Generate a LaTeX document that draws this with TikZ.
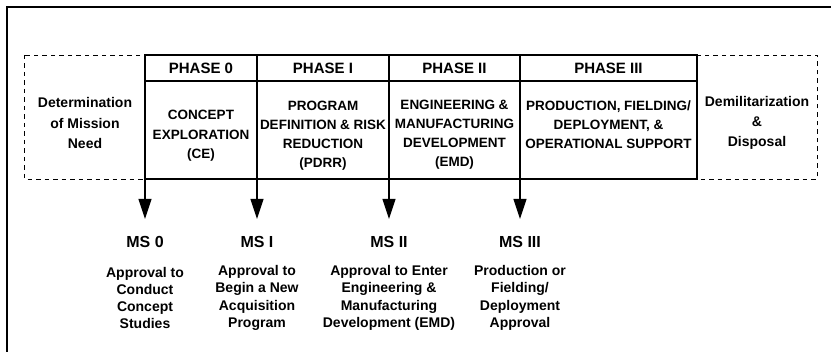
\documentclass[tikz,border=0pt]{standalone}
\usepackage{fontspec}
\setmainfont{Liberation Sans}
\usetikzlibrary{arrows.meta}
\tikzset{
  frame/.style={line width=2.2pt},
  dashbox/.style={draw, dashed, dash pattern=on 4.5pt off 4pt, line width=0.8pt},
  tbl/.style={line width=1.2pt},
  hdr/.style={font=\bfseries\fontsize{15}{17}\selectfont, inner sep=0pt},
  body/.style={font=\bfseries\fontsize{13.5}{19}\selectfont, align=center, inner sep=0pt},
  side/.style={font=\bfseries\fontsize{14}{20}\selectfont, align=center, inner sep=0pt},
  mslabel/.style={font=\bfseries\fontsize{16}{18}\selectfont, inner sep=0pt},
  desc/.style={font=\bfseries\fontsize{14}{17.3}\selectfont, align=center, inner sep=0pt},
  msarrow/.style={line width=1.1pt, -{Triangle[width=13pt,length=20pt]}}
}
\begin{document}
\begin{tikzpicture}[x=1pt,y=-1pt]
\useasboundingbox (0,0) rectangle (831,352);
% outer frame (top and left edges)
\draw[frame] (7,352) -- (7,7) -- (831,7);
% dashed side boxes
\draw[dashbox] (24,55) rectangle (145,179);
\draw[dashbox] (697,55) rectangle (817,179);
% phase table
\draw[tbl] (145,55) rectangle (697,179);
\draw[tbl] (145,81) -- (697,81);
\draw[tbl] (257,55) -- (257,179);
\draw[tbl] (389,55) -- (389,179);
\draw[tbl] (520,55) -- (520,179);
% headers
\node[hdr] (h0) at (201,68) {PHASE 0};
\node[hdr] (h1) at (323,68) {PHASE I};
\node[hdr] (h2) at (454.5,68) {PHASE II};
\node[hdr] (h3) at (608.5,68) {PHASE III};
% cell texts
\node[side] (need) at (85,123) {Determination\\of Mission\\Need};
\node[body, font=\bfseries\fontsize{13.5}{19.5}\selectfont] (ce) at (201,136) {CONCEPT\\EXPLORATION\\(CE)};
\node[body] (pdrr) at (323,136) {PROGRAM\\DEFINITION \& RISK\\REDUCTION\\(PDRR)};
\node[body] (emd) at (454.5,135) {ENGINEERING \&\\MANUFACTURING\\DEVELOPMENT\\(EMD)};
\node[body] (prod) at (608.5,125) {PRODUCTION, FIELDING/\\DEPLOYMENT, \&\\OPERATIONAL SUPPORT};
\node[side] (demil) at (757,123) {Demilitarization\\\&\\Disposal};
% arrow starts and ends
\coordinate (s0) at (145,179);
\coordinate (s1) at (257,179);
\coordinate (s2) at (389,179);
\coordinate (s3) at (520,179);
\coordinate (e0) at (145,219);
\coordinate (e1) at (257,219);
\coordinate (e2) at (389,219);
\coordinate (e3) at (520,219);
\draw[msarrow] (s0) -- (e0);
\draw[msarrow] (s1) -- (e1);
\draw[msarrow] (s2) -- (e2);
\draw[msarrow] (s3) -- (e3);
% milestones
\node[mslabel] (ms0) at (145,242) {MS 0};
\node[mslabel] (ms1) at (257,242) {MS I};
\node[mslabel] (ms2) at (389,242) {MS II};
\node[mslabel] (ms3) at (520,242) {MS III};
\node[desc] (d0) at (145,298) {Approval to\\Conduct\\Concept\\Studies};
\node[desc] (d1) at (257,298) {Approval to\\Begin a New\\Acquisition\\Program};
\node[desc] (d2) at (389,298) {Approval to Enter\\Engineering \&\\Manufacturing\\Development (EMD)};
\node[desc] (d3) at (520,298) {Production or\\Fielding/\\Deployment\\Approval};
\end{tikzpicture}
\end{document}
